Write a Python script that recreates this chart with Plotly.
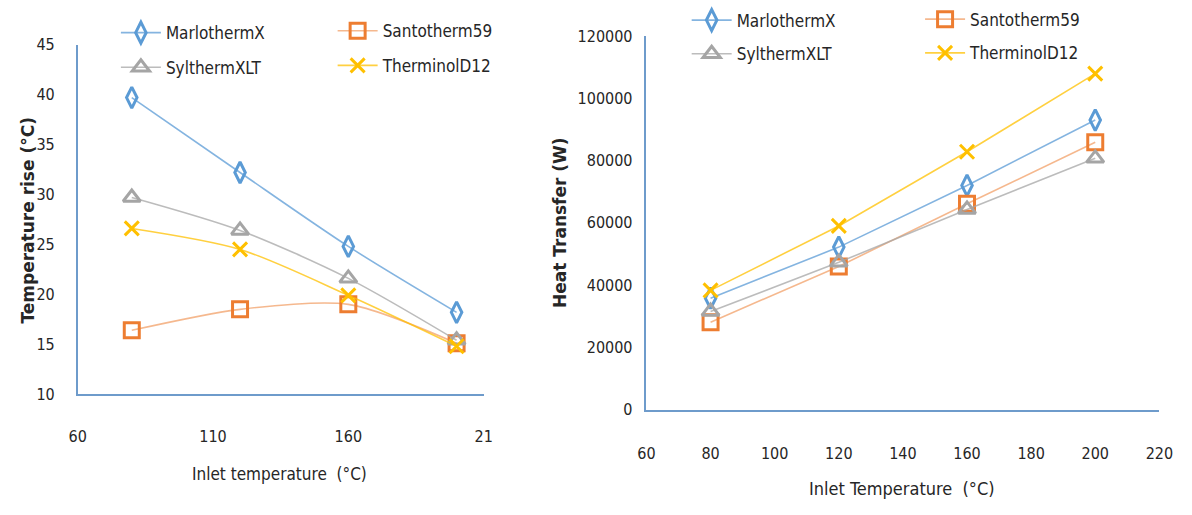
import plotly.graph_objects as go

# Inlet temperatures (°C)
inlet_temp = [80, 120, 160, 200]

# Temperature rise (°C) for each fluid
rise_marlotherm = [39.7, 32.2, 24.8, 18.2]
rise_santotherm = [16.4, 18.5, 19.0, 15.1]
rise_syltherm = [29.7, 26.4, 21.6, 15.4]
rise_therminol = [26.6, 24.5, 19.9, 14.8]

# Heat transfer (W) for each fluid
q_marlotherm = [35800, 52200, 72000, 93000]
q_santotherm = [28100, 46000, 66100, 85900]
q_syltherm = [31500, 47300, 64300, 80700]
q_therminol = [38300, 59000, 82800, 107900]

left_xticks = [60, 110, 160, 210]
left_xticktext = ["60", "110", "160", "21"]
right_xticks = [60, 80, 100, 120, 140, 160, 180, 200, 220]
right_yticks = [0, 20000, 40000, 60000, 80000, 100000, 120000]

names = ["MarlothermX", "Santotherm59", "SylthermXLT", "TherminolD12"]
colors = ["#5B9BD5", "#ED7D31", "#A5A5A5", "#FFC000"]
line_colors = ["rgba(91,155,213,0.75)", "rgba(237,125,49,0.55)",
               "rgba(165,165,165,0.75)", "rgba(255,192,0,0.75)"]
symbols = ["diamond-tall-open", "square-open", "triangle-up-open", "x-thin"]
sizes = [15, 15, 15, 14]

W, H = 1192, 515
FONT = "DejaVu Sans Condensed, Liberation Sans Narrow, sans-serif"
TXT = "#262626"
AXIS = "#6E9BCB"

def px(x):
    return x / W

def py(y):
    return 1 - y / H

fig = go.Figure()

left_series = [rise_marlotherm, rise_santotherm, rise_syltherm, rise_therminol]
right_series = [q_marlotherm, q_santotherm, q_syltherm, q_therminol]

# legend slots: (marker centre x, row y) in pixels
left_slots = [(131, 35), (352, 33), (131, 71), (352, 69)]
right_slots = [(713, 22), (951, 21), (713, 57), (951, 56)]
legend_keys = [f"legend{k + 2}" for k in range(8)]

for i in range(4):
    fig.add_trace(go.Scatter(
        x=inlet_temp, y=left_series[i], name=names[i], mode="lines+markers",
        line=dict(color=line_colors[i], width=1.6, shape="spline", smoothing=0.8),
        marker=dict(symbol=symbols[i], size=sizes[i], color=colors[i],
                    line=dict(color=colors[i], width=3)),
        xaxis="x", yaxis="y", legend=legend_keys[i],
    ))
for i in range(4):
    fig.add_trace(go.Scatter(
        x=inlet_temp, y=right_series[i], name=names[i], mode="lines+markers",
        line=dict(color=line_colors[i], width=1.6),
        marker=dict(symbol=symbols[i], size=sizes[i], color=colors[i],
                    line=dict(color=colors[i], width=3)),
        xaxis="x2", yaxis="y2", legend=legend_keys[i + 4],
    ))

legend_layout = {}
for key, (cx, cy) in zip(legend_keys, left_slots + right_slots):
    legend_layout[key] = dict(
        x=px(cx - 22), y=py(cy - 10), xanchor="left", yanchor="middle",
        bgcolor="rgba(0,0,0,0)", borderwidth=0, itemwidth=40,
        font=dict(family=FONT, size=17, color=TXT),
        tracegroupgap=0, itemclick=False,
    )

axis_common = dict(showgrid=False, zeroline=False, showline=True,
                   linecolor=AXIS, linewidth=1.5, ticks="outside",
                   tickcolor="rgba(0,0,0,0)", color=TXT)

fig.update_layout(
    width=W, height=H,
    margin=dict(l=0, r=0, t=0, b=0),
    paper_bgcolor="white", plot_bgcolor="white",
    showlegend=True,
    xaxis=dict(domain=[px(70), px(484)], range=[60, 210], tickvals=left_xticks,
               ticktext=left_xticktext, ticklen=27, anchor="y",
               tickfont=dict(family=FONT, size=16, color=TXT), **axis_common),
    yaxis=dict(domain=[py(400), py(37)], range=[10, 45], dtick=5, ticklen=18,
               anchor="x", tickfont=dict(family=FONT, size=16, color=TXT),
               **axis_common),
    xaxis2=dict(domain=[px(650), px(1173)], range=[60, 220], tickvals=right_xticks,
                ticklen=28, anchor="y2",
                tickfont=dict(family=FONT, size=16, color=TXT), **axis_common),
    yaxis2=dict(domain=[py(416), py(28)], range=[0, 120000], tickvals=right_yticks,
                ticklen=9, anchor="x2", tickformat="d",
                tickfont=dict(family=FONT, size=16, color=TXT), **axis_common),
    **legend_layout,
)

annotations = [
    dict(text="Inlet temperature  (°C)", x=px(276), y=py(483),
         font=dict(family=FONT, size=17, color=TXT)),
    dict(text="Inlet Temperature  (°C)", x=px(911), y=py(498),
         font=dict(family=FONT, size=18, color=TXT)),
    dict(text="<b>Temperature rise (°C)</b>", x=px(19), y=py(219), textangle=-90,
         font=dict(family="DejaVu Sans", size=17, color=TXT)),
    dict(text="<b>Heat Transfer (W)</b>", x=px(562), y=py(222), textangle=-90,
         font=dict(family="DejaVu Sans", size=17, color=TXT)),
]
for a in annotations:
    fig.add_annotation(xref="paper", yref="paper", showarrow=False,
                       xanchor="center", yanchor="middle", **a)

fig.write_html("out.html")
